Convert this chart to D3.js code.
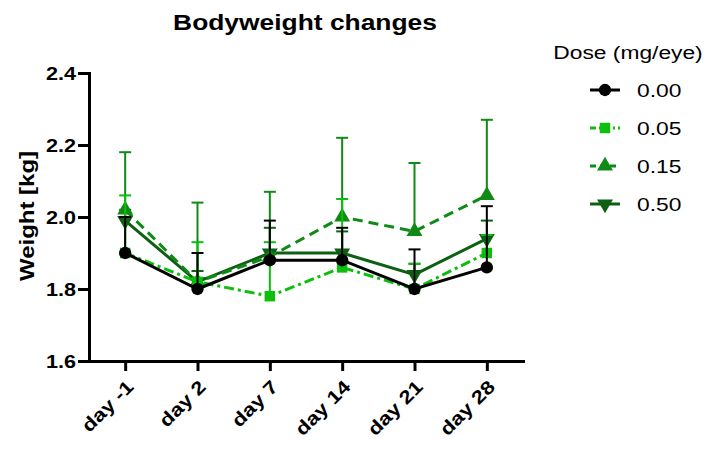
<!DOCTYPE html>
<meta charset="utf-8">
<style>
body { margin: 0; background: #fff; }
text { font-family: "Liberation Sans", Arial, sans-serif; fill: #000; }
</style>
<svg width="717" height="450"></svg>
<script src="https://d3js.org/d3.v7.min.js"></script>
<script>

var days = ["day -1", "day 2", "day 7", "day 14", "day 21", "day 28"];
var doses = ["0.00", "0.05", "0.15", "0.50"];
var yTicks = [1.6, 1.8, 2.0, 2.2, 2.4];

// mean bodyweight (kg) and SD (shown above only)
var mean000 = [1.90, 1.80, 1.88, 1.88, 1.80, 1.86];
var sd000   = [0.10, 0.10, 0.11, 0.09, 0.11, 0.17];
var mean005 = [1.90, 1.82, 1.78, 1.86, 1.80, 1.90];
var sd005   = [0.16, 0.11, 0.15, 0.19, 0.07, 0.05];
var mean015 = [2.02, 1.82, 1.89, 2.00, 1.96, 2.06];
var sd015   = [0.16, 0.22, 0.18, 0.22, 0.19, 0.21];
var mean050 = [1.99, 1.82, 1.90, 1.90, 1.84, 1.94];
var sd050   = [0.03, 0.03, 0.07, 0.06, 0.03, 0.05];

var series = [
  { name: doses[0], mean: mean000, sd: sd000, color: "#000000", dash: null,       legDash: null,      symbol: d3.symbolCircle,   size: 120, rot: 0 },
  { name: doses[1], mean: mean005, sd: sd005, color: "#0cbf0c", dash: "10,4,3,4", legDash: "6,3,2,3", symbol: d3.symbolSquare,   size: 110, rot: 0 },
  { name: doses[2], mean: mean015, sd: sd015, color: "#0f8a14", dash: "10,6",     legDash: "6,4",     symbol: d3.symbolTriangle, size: 110, rot: 0 },
  { name: doses[3], mean: mean050, sd: sd050, color: "#0d5f12", dash: null,       legDash: null,      symbol: d3.symbolTriangle, size: 110, rot: 180 }
];

var svg = d3.select("svg"),
    stretch = 1.2,
    plotLeft = 89, plotRight = 523, plotTop = 73, plotBottom = 361;

var x = d3.scalePoint().domain(days).range([plotLeft, plotRight]).padding(0.5);
var y = d3.scaleLinear().domain([1.6, 2.4]).range([plotBottom, plotTop]);

// title
svg.append("text")
    .attr("transform", "translate(305,30) scale(" + stretch + ",1)")
    .attr("text-anchor", "middle")
    .style("font-size", "22px").style("font-weight", "bold")
    .text("Bodyweight changes");

// y label
svg.append("text")
    .attr("transform", "translate(34,216) rotate(-90) scale(" + stretch + ",1)")
    .attr("text-anchor", "middle")
    .style("font-size", "20px").style("font-weight", "bold")
    .text("Weight [kg]");

// axes
var gy = svg.append("g")
    .attr("transform", "translate(" + plotLeft + ",0)")
    .call(d3.axisLeft(y).tickValues(yTicks).tickFormat(d3.format(".1f")).tickSize(11).tickSizeOuter(0));
gy.selectAll("text")
    .attr("x", null).attr("dy", "0.36em")
    .attr("transform", "translate(-13,0) scale(" + stretch + ",1)")
    .style("font-size", "18px").style("font-weight", "bold");

var gx = svg.append("g")
    .attr("transform", "translate(0," + plotBottom + ")")
    .call(d3.axisBottom(x).tickSize(10).tickSizeOuter(0));
gx.selectAll("text")
    .attr("y", null).attr("dy", null)
    .attr("text-anchor", "end")
    .attr("transform", "translate(9,27) rotate(-45) scale(" + stretch + ",1)")
    .style("font-size", "18.5px").style("font-weight", "bold");

svg.selectAll(".domain, .tick line")
    .attr("stroke", "#000").attr("stroke-width", 3).attr("stroke-linecap", "square");
svg.selectAll(".tick line").attr("stroke-linecap", "butt");

// series, drawn back to front
var line = d3.line()
    .x(function(d, i) { return x(days[i]); })
    .y(function(d) { return y(d); });

series.slice().reverse().forEach(function(s) {
  var g = svg.append("g");

  s.mean.forEach(function(m, i) {
    var cx = x(days[i]), yt = y(m + s.sd[i]);
    g.append("line").attr("x1", cx).attr("x2", cx).attr("y1", y(m)).attr("y2", yt)
        .attr("stroke", s.color).attr("stroke-width", 2);
    g.append("line").attr("x1", cx - 6).attr("x2", cx + 6).attr("y1", yt).attr("y2", yt)
        .attr("stroke", s.color).attr("stroke-width", 2);
  });

  g.append("path")
      .attr("d", line(s.mean))
      .attr("fill", "none")
      .attr("stroke", s.color)
      .attr("stroke-width", 3)
      .attr("stroke-dasharray", s.dash);

  g.selectAll(".pt")
      .data(s.mean)
      .enter().append("path")
      .attr("d", d3.symbol().type(s.symbol).size(s.size))
      .attr("transform", function(d, i) { return "translate(" + x(days[i]) + "," + y(d) + ") rotate(" + s.rot + ")"; })
      .attr("fill", s.color);
});

// legend
var legend = svg.append("g");
legend.append("text")
    .attr("transform", "translate(628,59) scale(" + stretch + ",1)")
    .attr("text-anchor", "middle")
    .style("font-size", "19px")
    .text("Dose (mg/eye)");

series.forEach(function(s, i) {
  var ly = 90 + i * 38;
  var lg = legend.append("g").attr("transform", "translate(0," + ly + ")");
  lg.append("line").attr("x1", 590).attr("x2", 620).attr("y1", 0).attr("y2", 0)
      .attr("stroke", s.color).attr("stroke-width", 3)
      .attr("stroke-dasharray", s.legDash);
  lg.append("path")
      .attr("d", d3.symbol().type(s.symbol).size(s.size))
      .attr("transform", "translate(605,0) rotate(" + s.rot + ")")
      .attr("fill", s.color);
  lg.append("text")
      .attr("transform", "translate(637,0) scale(" + stretch + ",1)")
      .attr("dy", "0.36em")
      .style("font-size", "19px")
      .text(s.name);
});

</script>
